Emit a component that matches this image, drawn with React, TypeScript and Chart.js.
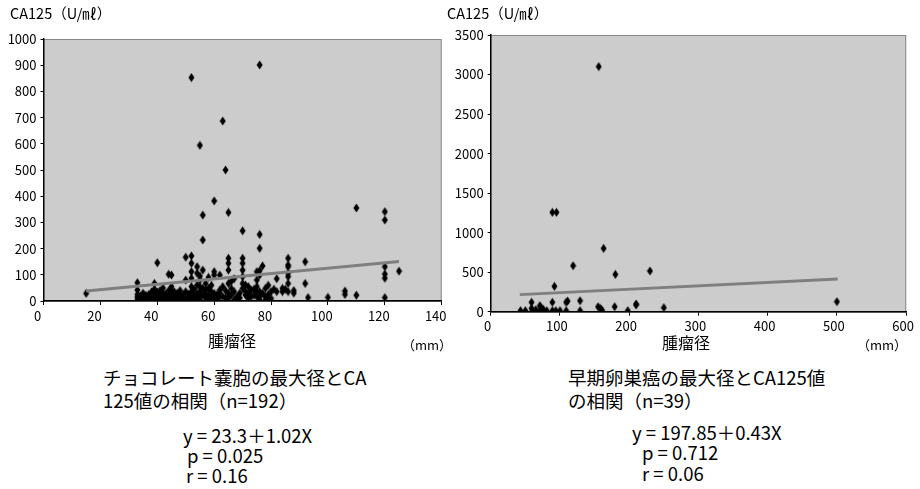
import React, { useEffect, useRef } from "react";
import { Chart, registerables } from "chart.js";
Chart.register(...registerables);

const FONT = '"Noto Sans CJK JP", "Noto Sans", sans-serif';

// ---- Left chart: chocolate cyst (n=192) ----
const endoX = [
  52, 76, 55, 63, 64, 60, 65, 56, 56, 70, 76, 76,
  15,
  33, 33, 33, 33, 33,
  34, 34,
  35, 35, 35,
  36, 36,
  37, 37,
  38, 38,
  39, 39, 39, 39, 39,
  40, 40, 40, 40,
  41, 41, 41,
  42, 42, 42, 42,
  43, 43,
  44, 44, 44, 44,
  45, 45, 45, 45, 45,
  46, 46, 46,
  47, 47, 47,
  48, 48, 48,
  49, 49,
  50, 50, 50, 50,
  51, 51,
  52, 52, 52, 52, 52, 52, 52, 52,
  53, 53, 53,
  54, 54, 54, 54, 54,
  55, 55, 55, 55, 55, 55,
  56, 56, 56,
  57, 57, 57, 57,
  58, 58, 58, 58,
  59, 59, 59,
  60, 60, 60, 60,
  61, 61,
  62, 62, 62, 62,
  63, 63,
  64, 64,
  65, 65, 65, 65, 65, 65,
  66, 66, 66,
  67, 67, 67,
  68, 68,
  69, 69,
  70, 70, 70, 70, 70, 70,
  71, 71, 71,
  72, 72, 72,
  73, 73,
  74, 74,
  75, 75, 75, 75, 75,
  76, 76, 76, 76, 76,
  77, 77,
  78, 78, 78,
  79, 79, 79,
  80, 80,
  81,
  82, 82,
  84, 84,
  85,
  86, 86, 86, 86, 86, 86, 86,
  88, 88,
  92, 92,
  93,
  100,
  106, 106,
  110, 110,
  120, 120, 120, 120, 120, 120,
  125,
];
const endoY = [
  853, 901, 594, 687, 500, 382, 338, 328, 233, 268, 254, 201,
  29,
  70, 42, 25, 15, 5,
  20, 10,
  30, 15, 3,
  22, 8,
  25, 12,
  35, 10,
  67, 45, 30, 18, 8,
  146, 35, 20, 5,
  40, 25, 12,
  50, 30, 15, 3,
  28, 12,
  102, 40, 20, 8,
  99, 55, 42, 23, 4,
  35, 22, 10,
  30, 15, 5,
  40, 20, 8,
  25, 12,
  167, 80, 36, 10,
  25, 8,
  172, 144, 112, 87, 55, 36, 17, 0,
  45, 22, 5,
  131, 106, 61, 29, 10,
  95, 80, 55, 36, 17, 5,
  118, 48, 23,
  67, 42, 29, 10,
  90, 48, 20, 5,
  60, 35, 15,
  112, 99, 29, 10,
  25, 8,
  99, 42, 30, 17,
  55, 17,
  40, 12,
  163, 144, 118, 67, 29, 10,
  75, 48, 23,
  85, 36, 5,
  17, 4,
  30, 12,
  163, 144, 118, 93, 67, 48,
  61, 36, 23,
  55, 29, 10,
  42, 17,
  45, 22,
  112, 80, 55, 36, 17,
  116, 99, 36, 17, 4,
  134, 29,
  48, 17, 5,
  60, 25, 5,
  36, 10,
  45,
  85, 36,
  48, 36,
  45,
  163, 137, 131, 106, 93, 67, 36,
  40, 30,
  150, 67,
  13,
  14,
  38, 25,
  355, 22,
  341, 309, 131, 103, 87, 13,
  114,
];
const endoLineX = [15, 125];
const endoLineY = [38.6, 150.8];

// ---- Right chart: early ovarian cancer (n=39) ----
const cancerX = [43, 50, 59, 59, 60, 71, 71, 74, 81, 89, 89, 94, 100, 109, 111, 109, 129, 129, 155, 158, 161, 179, 198, 89, 95, 92, 119, 156, 163, 180, 230, 250, 210, 210, 500, 72, 76, 65, 160];
const cancerY = [13, 13, 119, 43, 13, 76, 13, 13, 13, 119, 13, 13, 13, 119, 135, 13, 139, 13, 63, 43, 13, 63, 13, 1257, 1257, 321, 582, 3100, 801, 472, 515, 51, 97, 85, 127, 60, 30, 25, 25];
const cancerLineX = [42, 501];
const cancerLineY = [216, 413];

const leftTicksX = { max: 140, step: 20 };
const leftTicksY = { max: 1000, step: 100 };
const rightTicksX = { max: 600, step: 100 };
const rightTicksY = { max: 3500, step: 500 };

function makeMarker() {
  const c = document.createElement("canvas");
  c.width = 7;
  c.height = 10;
  const g = c.getContext("2d")!;
  g.fillStyle = "#000";
  g.beginPath();
  g.moveTo(3.5, 0.5);
  g.lineTo(6.5, 5);
  g.lineTo(3.5, 9.5);
  g.lineTo(0.5, 5);
  g.closePath();
  g.fill();
  return c;
}

const plotBg = {
  id: "plotBg",
  beforeDraw(chart: any) {
    const { ctx, chartArea: a } = chart;
    ctx.save();
    ctx.fillStyle = "#cccccc";
    ctx.fillRect(a.left, a.top, a.right - a.left, a.bottom - a.top);
    ctx.strokeStyle = "#8a8a8a";
    ctx.lineWidth = 1;
    ctx.strokeRect(a.left, a.top + 0.5, a.right - a.left - 0.5, a.bottom - a.top);
    ctx.restore();
  },
};

type PanelProps = {
  xs: number[];
  ys: number[];
  lx: number[];
  ly: number[];
  xt: { max: number; step: number };
  yt: { max: number; step: number };
  left: number;
  width: number;
  height: number;
  pad: { left: number; top: number; right: number; bottom: number };
  yWidth: number;
  labelOffset: number;
};

function Panel(p: PanelProps) {
  const ref = useRef<HTMLCanvasElement>(null);
  useEffect(() => {
    const marker = makeMarker();
    const pts = p.xs.slice(0, Math.min(p.xs.length, p.ys.length)).map((x, i) => ({ x, y: p.ys[i] }));
    const line = p.lx.map((x, i) => ({ x, y: p.ly[i] }));
    const tickFont = { family: FONT, size: 13 };
    const plain = (v: any) => String(v);
    const chart = new Chart(ref.current!, {
      type: "scatter",
      data: {
        datasets: [
          {
            type: "line",
            data: line,
            borderColor: "#7f7f7f",
            borderWidth: 3,
            pointRadius: 0,
            showLine: true,
            order: 0,
          } as any,
          {
            type: "scatter",
            data: pts,
            pointStyle: marker as any,
            pointRadius: 4,
            backgroundColor: "#000",
            borderColor: "#000",
            order: 1,
          },
        ],
      },
      options: {
        animation: false,
        responsive: false,
        devicePixelRatio: 1,
        layout: { padding: p.pad },
        plugins: { legend: { display: false }, tooltip: { enabled: false } },
        scales: {
          x: {
            type: "linear",
            min: 0,
            max: p.xt.max,
            afterFit: (s: any) => {
              s.height = 20;
            },
            ticks: {
              stepSize: p.xt.step,
              color: "#000",
              font: tickFont,
              padding: 3,
              labelOffset: p.labelOffset,
              maxRotation: 0,
              callback: plain,
            },
            grid: { drawOnChartArea: false, drawTicks: true, tickLength: 4, color: "#000" },
            border: { display: true, color: "#000", width: 1.5 },
          },
          y: {
            type: "linear",
            min: 0,
            max: p.yt.max,
            afterFit: (s: any) => {
              s.width = p.yWidth;
            },
            ticks: { stepSize: p.yt.step, color: "#000", font: tickFont, padding: 4, callback: plain },
            grid: { drawOnChartArea: false, drawTicks: true, tickLength: 3, color: "#000" },
            border: { display: true, color: "#000", width: 1.5 },
          },
        },
      } as any,
      plugins: [plotBg],
    });
    return () => chart.destroy();
  }, []);
  return (
    <canvas
      ref={ref}
      width={p.width}
      height={p.height}
      style={{ position: "absolute", left: p.left, top: 0, width: p.width, height: p.height }}
    />
  );
}

function T(props: { x: number; y: number; size: number; text: string; center?: boolean }) {
  return (
    <div
      style={{
        position: "absolute",
        left: props.x,
        top: props.y,
        transform: props.center ? "translate(-50%, -50%)" : "translateY(-50%)",
        fontFamily: FONT,
        fontSize: props.size,
        lineHeight: 1,
        whiteSpace: "nowrap",
        color: "#000",
      }}
    >
      {props.text}
    </div>
  );
}

export default function App() {
  return (
    <div
      style={{
        position: "fixed",
        left: 0,
        top: 0,
        width: 920,
        height: 489,
        background: "#fff",
        overflow: "hidden",
      }}
    >
      <Panel
        xs={endoX}
        ys={endoY}
        lx={endoLineX}
        ly={endoLineY}
        xt={leftTicksX}
        yt={leftTicksY}
        left={0}
        width={460}
        height={330}
        pad={{ left: 0, top: 39, right: 18.3, bottom: 9 }}
        yWidth={43.5}
        labelOffset={-6}
      />
      <Panel
        xs={cancerX}
        ys={cancerY}
        lx={cancerLineX}
        ly={cancerLineY}
        xt={rightTicksX}
        yt={rightTicksY}
        left={440}
        width={480}
        height={340}
        pad={{ left: 0, top: 35, right: 12.3, bottom: 8.3 }}
        yWidth={50.7}
        labelOffset={-3}
      />
      <T x={10} y={13} size={14.5} text="CA125（U/㎖）" />
      <T x={447} y={13} size={14.5} text="CA125（U/㎖）" />
      <T x={232} y={340} size={16} text="腫瘤径" center />
      <T x={402} y={344} size={13} text="（mm）" />
      <T x={686} y={342} size={16} text="腫瘤径" center />
      <T x={857} y={344} size={13} text="（mm）" />
      <T x={103} y={377} size={18.5} text="チョコレート嚢胞の最大径とCA" />
      <T x={103} y={400} size={18.5} text="125値の相関（n=192）" />
      <T x={568} y={377} size={18.5} text="早期卵巣癌の最大径とCA125値" />
      <T x={568} y={400} size={18.5} text="の相関（n=39）" />
      <T x={183} y={435} size={18.5} text="y = 23.3＋1.02X" />
      <T x={187} y={455} size={18.5} text="p = 0.025" />
      <T x={186} y={475} size={18.5} text="r = 0.16" />
      <T x={632} y={432} size={18.5} text="y = 197.85＋0.43X" />
      <T x={642} y={452} size={18.5} text="p = 0.712" />
      <T x={642} y={473} size={18.5} text="r = 0.06" />
    </div>
  );
}
